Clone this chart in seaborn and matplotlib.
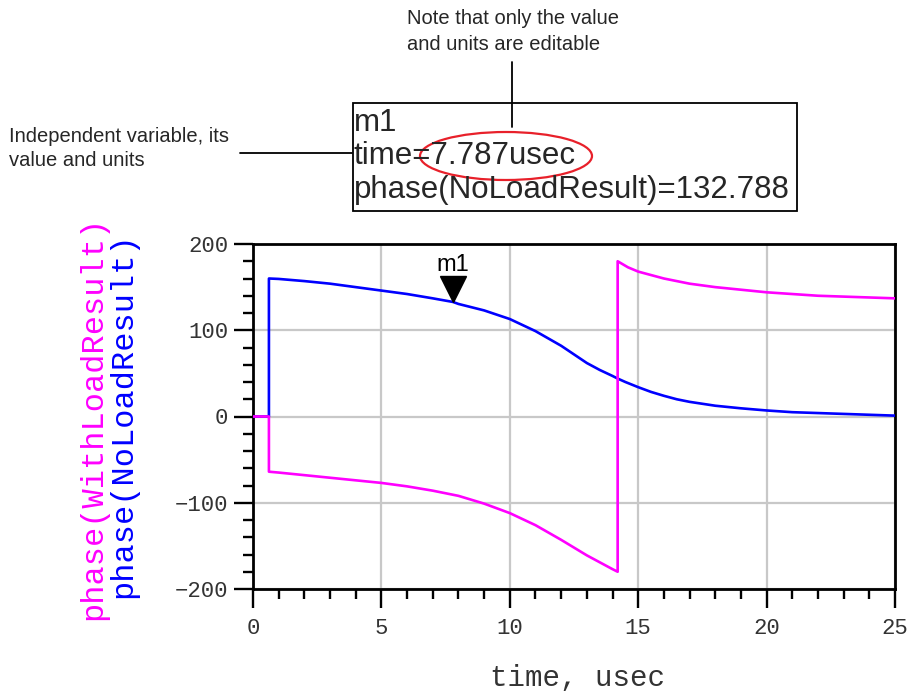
import matplotlib
matplotlib.use("Agg")
import matplotlib.pyplot as plt
import pandas as pd
import seaborn as sns
from matplotlib.lines import Line2D
from matplotlib.patches import Ellipse, Rectangle
from matplotlib.ticker import MultipleLocator
from matplotlib.transforms import offset_copy

# Data
time_noload = [0, 0.62, 0.62, 1, 2, 3, 4, 5, 6, 7, 7.787, 8, 9, 10, 11, 12, 12.5,
               13, 13.5, 14, 14.2, 14.5, 15, 15.5, 16, 16.5, 17, 18, 19, 20, 21, 22,
               23, 24, 25]
phase_noload = [0, 0, 160, 159.5, 157, 154, 150, 146, 142, 137, 132.8, 130.5, 123,
                113, 99, 82, 72, 62, 54, 47, 44, 40, 34, 28.5, 24, 20, 17, 12.5, 9.5,
                7, 5, 4, 3, 2, 1]

time_withload = [0, 0.62, 0.62, 1, 2, 3, 4, 5, 6, 7, 8, 9, 10, 11, 12, 13, 14, 14.2,
                 14.2, 14.6, 15, 15.5, 16, 17, 18, 19, 20, 21, 22, 23, 24, 25]
phase_withload = [0, 0, -64, -65, -68, -71, -74, -77, -81, -86, -92, -101, -112,
                  -126, -143, -161, -177, -180, 180, 173, 168, 164, 160, 154, 150,
                  147, 144, 142, 140, 139, 138, 137]

marker_time = 7.787
marker_phase = 132.788

x_ticks = [0, 5, 10, 15, 20, 25]
y_ticks = [-200, -100, 0, 100, 200]
y_ticklabels = ["\u2212200", "\u2212100", "0", "100", "200"]

MAGENTA = "#ff00ff"
BLUE = "#0000ff"

sns.set_style("white")
plt.rcParams["font.family"] = ["Liberation Sans", "DejaVu Sans"]

W, H = 915, 696
fig = plt.figure(figsize=(W / 100, H / 100), dpi=100)


def fx(px):
    return px / W


def fy(py):
    return 1 - py / H


ax = fig.add_axes([fx(253), fy(589), (895 - 253) / W, (589 - 244) / H])

df_noload = pd.DataFrame({"time": time_noload, "phase": phase_noload})
df_withload = pd.DataFrame({"time": time_withload, "phase": phase_withload})

sns.lineplot(data=df_noload, x="time", y="phase", ax=ax, color=BLUE, lw=1.9,
             estimator=None, sort=False, zorder=3)
sns.lineplot(data=df_withload, x="time", y="phase", ax=ax, color=MAGENTA, lw=1.9,
             estimator=None, sort=False, zorder=3)

ax.set_xlim(0, 25)
ax.set_ylim(-200, 200)
ax.set_xticks(x_ticks)
ax.set_yticks(y_ticks)
ax.set_yticklabels(y_ticklabels)
ax.xaxis.set_minor_locator(MultipleLocator(1))
ax.yaxis.set_minor_locator(MultipleLocator(20))
ax.grid(True, which="major", color="#c8c8c8", lw=1.6, zorder=0)
ax.set_axisbelow(True)
for s in ax.spines.values():
    s.set_color("black")
    s.set_linewidth(2)
    s.set_visible(True)

ax.tick_params(which="major", direction="out", length=14, width=1.7, color="black",
               labelsize=16, labelcolor="#333333", left=True, bottom=True)
ax.tick_params(which="minor", direction="out", length=7.5, width=1.7, color="black",
               left=True, bottom=True)
ax.tick_params(axis="x", which="major", pad=7)
ax.tick_params(axis="y", which="major", pad=4)
for lbl in ax.get_xticklabels() + ax.get_yticklabels():
    lbl.set_fontfamily("Liberation Mono")

ax.set_xlabel("")
ax.set_ylabel("")
fig.text(fx(578), fy(678), "time, usec", ha="center", va="center",
         family="Liberation Mono", fontsize=21, color="#333333")

# stacked y labels
fig.text(fx(93), fy(418), "phase(WithLoadResult)", rotation=90, ha="center",
         va="center", family="Liberation Mono", fontsize=23, color=MAGENTA)
fig.text(fx(123), fy(415), "phase(NoLoadResult)", rotation=90, ha="center",
         va="center", family="Liberation Mono", fontsize=23, color=BLUE)

# marker m1
tri = offset_copy(ax.transData, fig=fig, x=0, y=13, units="dots")
ax.plot([marker_time], [marker_phase], marker="v", markersize=19, color="black",
        transform=tri, zorder=5, clip_on=False)
lab = offset_copy(ax.transData, fig=fig, x=0, y=31, units="dots")
ax.text(marker_time, marker_phase, "m1", transform=lab, ha="center", va="baseline",
        fontsize=17, color="black")

# readout box
fig.patches.append(Rectangle((fx(353), fy(211)), (797 - 353) / W, (211 - 103) / H,
                             transform=fig.transFigure, fill=False, ec="black", lw=1.3))
fig.text(fx(354), fy(131), "m1", fontsize=22.5, va="baseline", ha="left")
fig.text(fx(354), fy(164), "time=7.787usec", fontsize=22.5, va="baseline", ha="left")
fig.text(fx(354), fy(198), "phase(NoLoadResult)=132.788", fontsize=22.5,
         va="baseline", ha="left")
fig.patches.append(Ellipse((fx(506), fy(156)), 172 / W, 48 / H, transform=fig.transFigure,
                           fill=False, ec="#e8202a", lw=1.6))

# callouts
fig.lines.append(Line2D([fx(512), fx(512)], [fy(62), fy(127)], transform=fig.transFigure,
                        color="black", lw=1.3))
fig.lines.append(Line2D([fx(240), fx(352)], [fy(153), fy(153)], transform=fig.transFigure,
                        color="black", lw=1.3))
fig.text(fx(407), fy(24), "Note that only the value", fontsize=14.5, va="baseline")
fig.text(fx(407), fy(50), "and units are editable", fontsize=14.5, va="baseline")
fig.text(fx(9), fy(142), "Independent variable, its", fontsize=14.5, va="baseline")
fig.text(fx(9), fy(166), "value and units", fontsize=14.5, va="baseline")

fig.savefig("out.png", dpi=100)
